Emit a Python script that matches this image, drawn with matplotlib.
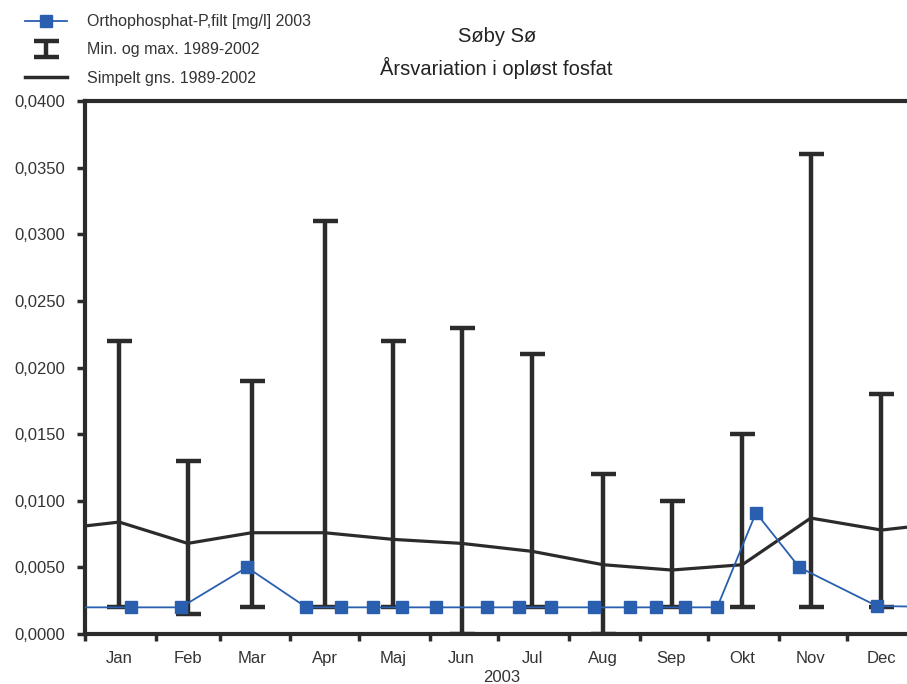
import numpy as np
import pandas as pd
import matplotlib
matplotlib.use("Agg")
import matplotlib.pyplot as plt
import matplotlib.dates as mdates
from matplotlib.lines import Line2D
from matplotlib.ticker import FuncFormatter

plt.rcParams['font.family'] = ['Liberation Sans', 'DejaVu Sans']

# monthly statistics 1989-2002 (plotted mid-month)
month_dates = pd.to_datetime(["2003-01-16", "2003-02-15", "2003-03-15", "2003-04-16",
                              "2003-05-16", "2003-06-15", "2003-07-16", "2003-08-16",
                              "2003-09-15", "2003-10-16", "2003-11-15", "2003-12-16"])
month_labels = ["Jan", "Feb", "Mar", "Apr", "Maj", "Jun", "Jul", "Aug", "Sep", "Okt", "Nov", "Dec"]
min_vals = [0.0020, 0.0015, 0.0020, 0.0020, 0.0020, 0.0000,
            0.0020, 0.0000, 0.0020, 0.0020, 0.0020, 0.0020]
max_vals = [0.0220, 0.0130, 0.0190, 0.0310, 0.0220, 0.0230,
            0.0210, 0.0120, 0.0100, 0.0150, 0.0360, 0.0180]
mean_vals = [0.0084, 0.0068, 0.0076, 0.0076, 0.0071, 0.0068,
             0.0062, 0.0052, 0.0048, 0.0052, 0.0087, 0.0078]

# measurements 2003 (plus the neighbouring samples outside the year)
sample_dates = pd.to_datetime(["2002-12-10", "2003-01-21", "2003-02-12", "2003-03-13", "2003-04-08",
                               "2003-04-23", "2003-05-07", "2003-05-20", "2003-06-04",
                               "2003-06-26", "2003-07-10", "2003-07-24", "2003-08-12",
                               "2003-08-28", "2003-09-08", "2003-09-21", "2003-10-05",
                               "2003-10-22", "2003-11-10", "2003-12-14", "2004-01-20"])
sample_vals = [0.0020, 0.0020, 0.0020, 0.0050, 0.0020, 0.0020, 0.0020, 0.0020, 0.0020,
               0.0020, 0.0020, 0.0020, 0.0020, 0.0020, 0.0020, 0.0020, 0.0020,
               0.0091, 0.0050, 0.0021, 0.0020]

fig = plt.figure(figsize=(9.07, 6.84), dpi=100)
ax = fig.add_axes([85 / 907, 50 / 684, 833 / 907, 533 / 684])

# mean line wraps around the year
mean_x = [pd.Timestamp("2002-12-16")] + list(month_dates) + [pd.Timestamp("2004-01-16")]
mean_y = [mean_vals[-1]] + mean_vals + [mean_vals[0]]

blue = "#2a5fb0"
ink = "#2b2b2b"
txt = "#333333"

mins = np.array(min_vals)
maxs = np.array(max_vals)
mid = (mins + maxs) / 2
half = (maxs - mins) / 2
eb = ax.errorbar(month_dates, mid, yerr=half, fmt="none", ecolor=ink,
                 elinewidth=3.2, capsize=9, capthick=3.2, zorder=2)
mean_line, = ax.plot(mean_x, mean_y, color=ink, lw=2.3, zorder=3)
obs_line, = ax.plot(sample_dates, sample_vals, color=blue, lw=1.3, marker="s",
                    markersize=8, markerfacecolor=blue, markeredgecolor=blue, zorder=4)

ax.set_xlim(pd.Timestamp("2003-01-01"), pd.Timestamp("2004-01-01"))
ax.set_ylim(0, 0.04)
ax.set_yticks(np.arange(0, 0.0401, 0.005))
ax.yaxis.set_major_formatter(FuncFormatter(lambda v, p: f"{v:.4f}".replace(".", ",")))

ax.xaxis.set_major_locator(mdates.MonthLocator())
ax.xaxis.set_major_formatter(plt.NullFormatter())
ax.set_xticks(month_dates, minor=True)
ax.set_xticklabels(month_labels, minor=True)
ax.tick_params(axis="x", which="minor", length=0, pad=12, labelsize=12, labelcolor=txt)
ax.tick_params(axis="x", which="major", length=5, width=2.5, color=ink)
ax.tick_params(axis="y", length=6, width=2.5, color=ink, labelsize=12,
               labelcolor=txt, pad=8)
ax.set_xlabel("2003", fontsize=12, color=txt, labelpad=3)

for side in ["left", "bottom", "top", "right"]:
    ax.spines[side].set_linewidth(3)
    ax.spines[side].set_color(ink)

fig.text(0.548, 0.946, "Søby Sø", ha="center", va="center", fontsize=14.5, color="#222222")
fig.text(0.547, 0.900, "Årsvariation i opløst fosfat", ha="center", va="center",
         fontsize=14.5, color="#222222")

legend_obs = Line2D([], [], color=blue, lw=1.3, marker="s", markersize=8)
legend_mean = Line2D([], [], color=ink, lw=2.5)
fig.legend([legend_obs, eb, legend_mean],
           ["Orthophosphat-P,filt [mg/l] 2003", "Min. og max. 1989-2002", "Simpelt gns. 1989-2002"],
           loc="upper left", bbox_to_anchor=(0.012, 1.0), frameon=False,
           fontsize=11.5, handlelength=2.6, handletextpad=1.25, labelspacing=0.82,
           labelcolor=txt)

fig.savefig("out.png", dpi=100)
